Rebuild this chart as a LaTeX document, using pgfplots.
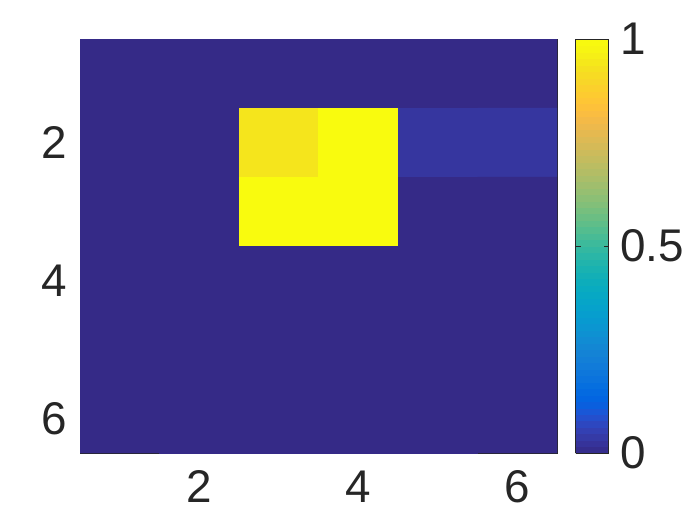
\documentclass[border=0pt]{standalone}
\usepackage{pgfplots}
\pgfplotsset{compat=1.18}
\usepackage{fontspec}
\setmainfont{Liberation Sans}
\definecolor{axgray}{RGB}{38,38,38}
\begin{document}
\begin{tikzpicture}
\useasboundingbox (0,0) rectangle (700bp,525bp);
\begin{axis}[
at={(80bp,72bp)}, anchor=south west,
scale only axis,
width=477bp, height=414bp,
xmin=0.5, xmax=6.5, ymin=0.5, ymax=6.5,
y dir=reverse,
axis line style={axgray, line width=0.6bp},
tick style={axgray, line width=0.6bp},
tick align=inside,
major tick length=5bp,
xtick={2,4,6}, ytick={2,4,6},
font=\fontsize{46}{55}\selectfont,
tick label style={text=axgray},
/pgf/number format/assume math mode=true,
xticklabel style={yshift=-14bp},
yticklabel style={xshift=-9bp},
colormap={parula}{
  rgb=(0.2081,0.1663,0.5292)
  rgb=(0.2123,0.2138,0.6270)
  rgb=(0.1959,0.2645,0.7279)
  rgb=(0.1253,0.3242,0.8303)
  rgb=(0.0117,0.3875,0.8820)
  rgb=(0.0165,0.4266,0.8786)
  rgb=(0.0498,0.4586,0.8641)
  rgb=(0.0723,0.4887,0.8467)
  rgb=(0.0793,0.5200,0.8312)
  rgb=(0.0641,0.5570,0.8240)
  rgb=(0.0343,0.5966,0.8199)
  rgb=(0.0239,0.6287,0.8038)
  rgb=(0.0228,0.6535,0.7768)
  rgb=(0.0384,0.6743,0.7436)
  rgb=(0.0843,0.6928,0.7062)
  rgb=(0.1453,0.7098,0.6646)
  rgb=(0.2178,0.7250,0.6193)
  rgb=(0.3022,0.7376,0.5712)
  rgb=(0.3953,0.7459,0.5244)
  rgb=(0.4871,0.7491,0.4840)
  rgb=(0.5709,0.7485,0.4494)
  rgb=(0.6473,0.7456,0.4188)
  rgb=(0.7184,0.7411,0.3905)
  rgb=(0.7858,0.7356,0.3633)
  rgb=(0.8507,0.7299,0.3360)
  rgb=(0.9139,0.7258,0.3063)
  rgb=(0.9739,0.7314,0.2666)
  rgb=(0.9990,0.7653,0.2164)
  rgb=(0.9880,0.8066,0.1794)
  rgb=(0.9697,0.8481,0.1475)
  rgb=(0.9589,0.8949,0.1132)
  rgb=(0.9661,0.9514,0.0755)
  rgb=(0.9763,0.9831,0.0538)
},
point meta min=0, point meta max=1,
colorbar sampled,
colorbar style={
  at={(parent axis.north east)}, anchor=north west,
  xshift=10bp,
  width=33bp,
  samples=65,
  ytick={0,0.5,1},
  font=\fontsize{46}{55}\selectfont,
  yticklabel style={xshift=8bp, text=axgray, /pgf/number format/fixed, /pgf/number format/assume math mode=true},
  axis line style={axgray, line width=0.6bp},
  tick style={axgray, line width=0.6bp},
  tick align=inside,
  major tick length=5bp,
  yticklabel pos=right,
},
]
\addplot [matrix plot*, mesh/cols=6, point meta=explicit] table [meta=c] {
x y c
1 1 0
2 1 0
3 1 0
4 1 0
5 1 0
6 1 0
1 2 0
2 2 0
3 2 0.94
4 2 1
5 2 0.03
6 2 0.03
1 3 0
2 3 0
3 3 1
4 3 1
5 3 0
6 3 0
1 4 0
2 4 0
3 4 0
4 4 0
5 4 0
6 4 0
1 5 0
2 5 0
3 5 0
4 5 0
5 5 0
6 5 0
1 6 0
2 6 0
3 6 0
4 6 0
5 6 0
6 6 0
};
\end{axis}
\end{tikzpicture}
\end{document}
